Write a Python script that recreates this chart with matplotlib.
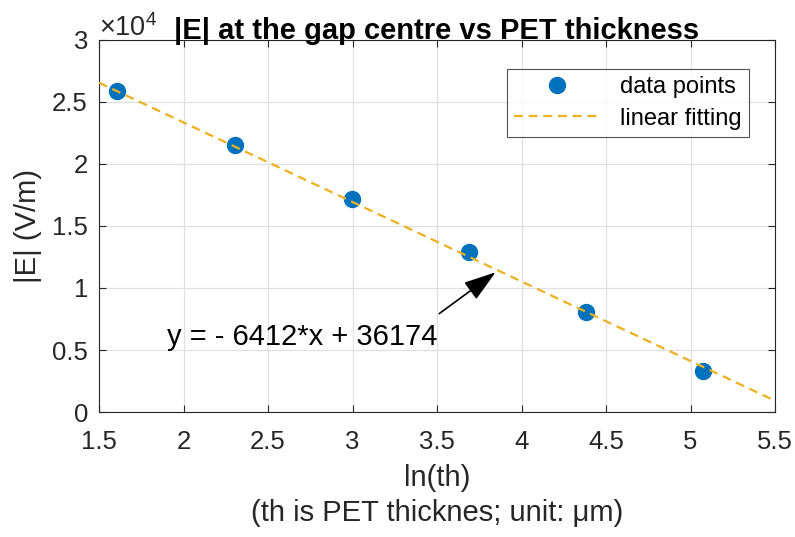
import numpy as np
import matplotlib
matplotlib.use("Agg")
import matplotlib.pyplot as plt
from matplotlib.ticker import FuncFormatter

plt.rcParams['font.family'] = ['Liberation Sans', 'DejaVu Sans']
plt.rcParams['mathtext.fontset'] = 'custom'
plt.rcParams['mathtext.rm'] = 'Liberation Sans'
plt.rcParams['mathtext.it'] = 'Liberation Sans:italic'

# data
x_pts = [1.609, 2.303, 2.996, 3.689, 4.382, 5.075]
y_pts = [25900, 21500, 17200, 12900, 8100, 3300]
slope = -6412
intercept = 36174
x_fit = [1.5, 5.5]
xticks = [1.5, 2, 2.5, 3, 3.5, 4, 4.5, 5, 5.5]
yticks = [0, 5000, 10000, 15000, 20000, 25000, 30000]

fig = plt.figure(figsize=(7.95, 5.37), dpi=100)
# axes: left 99px, right 775px, top 40px, bottom 412px
ax = fig.add_axes([99/795, 1-412/537, 676/795, 372/537])

y_fit = [slope * v + intercept for v in x_fit]
ax.plot(x_pts, y_pts, 'o', color='#0072BD', markersize=11.5, label='data points', zorder=2)
ax.plot(x_fit, y_fit, '--', color='#EDB120', linewidth=1.6, dashes=(4, 2.6), label='linear fitting', zorder=3)

ax.set_xlim(1.5, 5.5)
ax.set_ylim(0, 30000)
ax.set_xticks(xticks)
ax.set_yticks(yticks)
ax.xaxis.set_major_formatter(FuncFormatter(lambda v, p: f"{v:g}"))
ax.yaxis.set_major_formatter(FuncFormatter(lambda v, p: f"{v/1e4:g}"))
ax.tick_params(direction='in', top=True, right=True, labelsize=18.5, length=5,
               color='#262626', labelcolor='#262626', width=0.8)
ax.tick_params(axis='x', pad=13)
ax.tick_params(axis='y', pad=8)
ax.grid(True, color='#e0e0e0', linewidth=0.9)
ax.set_axisbelow(True)
for s in ax.spines.values():
    s.set_color('#262626')
    s.set_linewidth(0.8)

ax.set_xlabel('ln(th)\n(th is PET thicknes; unit: μm)', fontsize=21, color='#262626',
              linespacing=1.35, labelpad=7)
ax.set_ylabel('|E| (V/m)', fontsize=21, color='#262626', labelpad=7)
ax.set_title('|E| at the gap centre vs PET thickness', fontsize=21, fontweight='bold', pad=1)
ax.annotate(r'×10$^{4}$', xy=(0, 1), xycoords='axes fraction', xytext=(0, 3),
            textcoords='offset points', fontsize=19.5, color='#262626', ha='left', va='baseline')

ax.annotate('', xy=(3.86, 11400), xytext=(3.5, 7800),
            arrowprops=dict(arrowstyle='-|>,head_length=2.0,head_width=0.65', color='black', lw=1.2))
ax.text(1.9, 5390, 'y = - 6412*x + 36174', fontsize=21, color='black', va='baseline')

leg = ax.legend(loc='upper right', bbox_to_anchor=(650/676, (412-69)/372), borderaxespad=0,
                fontsize=17, frameon=True, fancybox=False, edgecolor='#262626',
                handlelength=3.6, handletextpad=0.9, borderpad=0.3, labelspacing=0.4)
leg.get_frame().set_linewidth(0.8)

fig.savefig('out.png', dpi=100)
